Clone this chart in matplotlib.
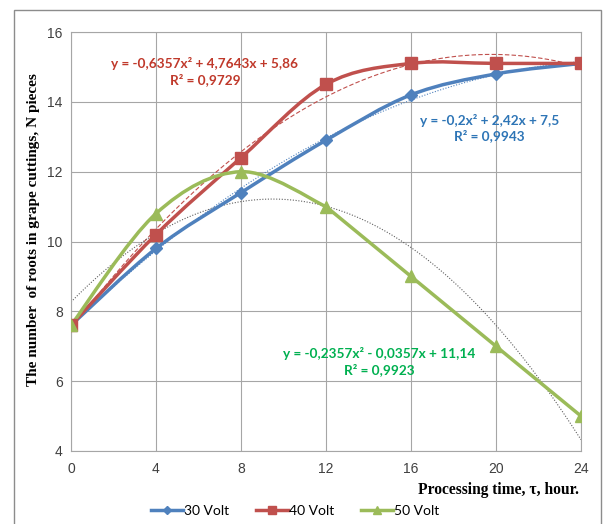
import numpy as np
import matplotlib
matplotlib.use("Agg")
from matplotlib import pyplot as plt
from matplotlib.path import Path
from matplotlib.patches import PathPatch, Rectangle
from matplotlib.lines import Line2D

hours = [0, 4, 8, 12, 16, 20, 24]
volt30 = [7.6, 9.8, 11.4, 12.9, 14.2, 14.8, 15.1]
volt40 = [7.6, 10.2, 12.4, 14.5, 15.1, 15.1, 15.1]
volt50 = [7.6, 10.8, 12.0, 11.0, 9.0, 7.0, 5.0]
labels = ["30 Volt", "40 Volt", "50 Volt"]
equations = ["y = -0,2x² + 2,42x + 7,5\nR² = 0,9943",
             "y = -0,6357x² + 4,7643x + 5,86\nR² = 0,9729",
             "y = -0,2357x² - 0,0357x + 11,14\nR² = 0,9923"]

BLUE, RED, GREEN = "#4F81BD", "#C0504D", "#9BBB59"


def smooth_path(x, y):
    # excel-like smoothed line: bezier segments through the points
    p = np.column_stack([x, y]).astype(float)
    verts = [p[0]]
    codes = [Path.MOVETO]
    n = len(p)
    for i in range(n - 1):
        p0 = p[max(i - 1, 0)]
        p1, p2 = p[i], p[i + 1]
        p3 = p[min(i + 2, n - 1)]
        verts += [p1 + (p2 - p0) / 6, p2 - (p3 - p1) / 6, p2]
        codes += [Path.CURVE4] * 3
    return Path(verts, codes)


fig = plt.figure(figsize=(6.06, 5.24), dpi=100)
fig.patches.append(Rectangle((14 / 606, -0.05), 587 / 606, 1 - 10 / 524 + 0.05,
                             transform=fig.transFigure, fill=False,
                             edgecolor="#8c8c8c", linewidth=1.0))
ax = fig.add_axes([71 / 606, 1 - 451 / 524, 510 / 606, 419 / 524])

series = [(volt30, BLUE, "D", 6, "#2E75B6"), (volt40, RED, "s", 9, "#C0392B"),
          (volt50, GREEN, "^", 9, "#00B050")]
trend_style = [(BLUE, (0, (1, 1.5))), ("#C0504D", (0, (4, 2))), ("#606060", (0, (1, 1.5)))]
xs = np.linspace(0, 24, 200)
for (vals, col, mk, ms, _), (tcol, tls) in zip(series, trend_style):
    coef = np.polyfit(hours, vals, 2)
    ax.plot(xs, np.polyval(coef, xs), color=tcol, linestyle=tls, linewidth=0.8, zorder=2)

smooth = [True, True, False]
for (vals, col, mk, ms, _), sm in zip(series, smooth):
    if sm:
        ax.add_patch(PathPatch(smooth_path(hours, vals), facecolor="none",
                               edgecolor=col, linewidth=2.5, zorder=3))
    else:
        ax.add_patch(PathPatch(smooth_path(hours[:4], vals[:4]), facecolor="none",
                               edgecolor=col, linewidth=2.5, zorder=3))
        ax.plot(hours[3:], vals[3:], color=col, linewidth=2.5, zorder=3)
    ax.plot(hours, vals, linestyle="none", marker=mk, markersize=ms, color=col, zorder=4)

eq_pos = [(19.7, 13.25), (6.3, 14.87), (14.5, 6.56)]
for (vals, col, mk, ms, tc), eq, (ex, ey) in zip(series, equations, eq_pos):
    ax.text(ex, ey, eq, color=tc, fontsize=9.8, fontweight="bold", family="Lato",
            ha="center", va="center", linespacing=1.25, zorder=5)

ax.set_xlim(0, 24)
ax.set_ylim(4, 16)
ax.set_xticks(hours)
ax.set_yticks([4, 6, 8, 10, 12, 14, 16])
ax.grid(True, color="#a6a6a6", linewidth=0.8)
ax.set_axisbelow(True)
for s in ax.spines.values():
    s.set_color("#a6a6a6")
    s.set_linewidth(0.8)
ax.tick_params(length=0, labelsize=10, labelcolor="#404040", pad=8)
ax.tick_params(axis="y", pad=6)
for lab in ax.get_xticklabels() + ax.get_yticklabels():
    lab.set_family("Liberation Sans")

fig.text(579 / 606, 1 - 490 / 524, "Processing time, τ, hour.", ha="right", va="center",
         family="Liberation Serif", fontweight="bold", fontsize=11.2)
fig.text(34 / 606, 1 - 230 / 524, "The number  of roots in grape cuttings, N pieces",
         rotation=90, ha="center", va="center", family="Liberation Serif",
         fontweight="bold", fontsize=11)

handles = [Line2D([], [], color=c, marker=m, markersize=ms * 0.7, linewidth=2.5)
           for (_, c, m, ms, _) in series]
fig.legend(handles, labels, loc="center", bbox_to_anchor=(295 / 606, 1 - 511 / 524),
           ncol=3, frameon=False, prop={"family": "Lato", "size": 10},
           handlelength=2.3, handletextpad=0.1, columnspacing=1.9)

fig.savefig("out.png", dpi=100)
